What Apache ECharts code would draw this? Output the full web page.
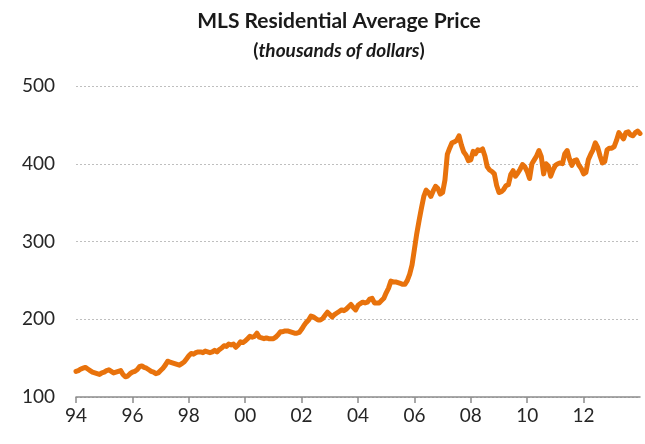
<!DOCTYPE html>
<html>
<head>
<meta charset="utf-8">
<title>MLS Residential Average Price</title>
<script src="https://cdn.jsdelivr.net/npm/echarts@6/dist/echarts.min.js"></script>
<style>
    html, body { margin: 0; padding: 0; background: #fff; }
    #chart { width: 645px; height: 444px; }
</style>
</head>
<body>
<div id="chart"></div>
<script>
// monthly average price, thousands of dollars, Jan 1994 .. Jan 2014
const startYear = 1994;
const prices1994_1997 = [
    133, 134, 136, 137, 138, 136, 134, 132, 131, 130, 129, 131,
    132, 134, 135, 133, 131, 132, 133, 134, 129, 126, 127, 130,
    132, 133, 135, 139, 140, 138, 137, 135, 133, 132, 130, 131,
    134, 137, 141, 146, 145, 144, 143, 142, 141, 143, 145, 149
];
const prices1998_2001 = [
    153, 156, 155, 157, 158, 158, 157, 159, 158, 157, 158, 160,
    158, 161, 163, 166, 165, 168, 167, 168, 164, 167, 171, 170,
    172, 175, 178, 177, 178, 182, 177, 176, 175, 176, 175, 175,
    175, 177, 180, 184, 184, 185, 185, 184, 183, 182, 182, 183
];
const prices2002_2005 = [
    187, 192, 196, 199, 204, 203, 201, 199, 199, 201, 205, 209,
    206, 203, 206, 208, 210, 212, 211, 213, 216, 219, 215, 212,
    218, 220, 222, 221, 222, 226, 227, 221, 221, 221, 224, 227,
    234, 240, 249, 248, 248, 247, 246, 245, 245, 250, 258, 270
];
const prices2006_2009 = [
    290, 310, 327, 343, 358, 366, 363, 358, 365, 371, 368, 361,
    363, 379, 412, 420, 427, 428, 430, 436, 424, 415, 411, 404,
    405, 416, 413, 418, 417, 419, 410, 396, 392, 390, 387, 372,
    363, 364, 367, 372, 373, 386, 391, 384, 388, 393, 399, 396
];
const prices2010_2014 = [
    390, 381, 400, 405, 410, 417, 409, 387, 400, 397, 384, 392,
    398, 400, 401, 400, 413, 417, 406, 398, 404, 405, 398, 394,
    387, 389, 405, 412, 418, 427, 421, 410, 401, 403, 418, 420,
    420, 422, 430, 440, 436, 432, 440, 441, 437, 436, 440, 442,
    439
];
const xTickLabels = ['94', '96', '98', '00', '02', '04', '06', '08', '10', '12'];
const yTicks = [100, 200, 300, 400, 500];

const prices = [].concat(prices1994_1997, prices1998_2001, prices2002_2005,
    prices2006_2009, prices2010_2014);
const seriesData = prices.map((v, i) => [startYear + i / 12, v]);

const chart = echarts.init(document.getElementById('chart'), null, { renderer: 'canvas' });
const textColor = '#262626';
const font = 'Lato, "Open Sans", sans-serif';

chart.setOption({
    animation: false,
    backgroundColor: '#fff',
    title: {
        text: 'MLS Residential Average Price',
        subtext: '{p|(}{i|thousands of dollars}{p|)}',
        left: 334,
        top: 6,
        textAlign: 'center',
        itemGap: 9,
        textStyle: { fontFamily: font, fontWeight: 'bold', fontSize: 21, color: '#1a1a1a' },
        subtextStyle: {
            rich: {
                p: { fontFamily: font, fontWeight: 'bold', fontSize: 19, color: '#1a1a1a' },
                i: { fontFamily: font, fontWeight: 'bold', fontStyle: 'italic', fontSize: 19, color: '#1a1a1a' }
            }
        }
    },
    grid: { left: 76, right: 5, top: 86, bottom: 47, containLabel: false },
    xAxis: {
        type: 'value',
        min: 1994,
        max: 2014,
        interval: 2,
        axisLine: { show: true, lineStyle: { color: '#8c8c8c', width: 1.5 } },
        axisTick: { show: true, length: 6, lineStyle: { color: '#8c8c8c', width: 1.5 } },
        splitLine: { show: false },
        axisLabel: {
            margin: 9,
            color: textColor,
            fontFamily: font,
            fontSize: 19,
            showMaxLabel: false,
            formatter: (v) => xTickLabels[Math.round((v - startYear) / 2)] || ''
        }
    },
    yAxis: {
        type: 'value',
        min: yTicks[0],
        max: yTicks[yTicks.length - 1],
        interval: 100,
        axisLine: { show: false },
        axisTick: { show: false },
        splitLine: { lineStyle: { color: '#bfbfbf', type: [2, 2], width: 1 } },
        axisLabel: {
            margin: 21,
            color: textColor,
            fontFamily: font,
            fontSize: 19
        }
    },
    series: [{
        type: 'line',
        data: seriesData,
        showSymbol: false,
        lineStyle: { color: '#E8720C', width: 5, join: 'round', cap: 'round' },
        z: 3
    }]
});
</script>
</body>
</html>
